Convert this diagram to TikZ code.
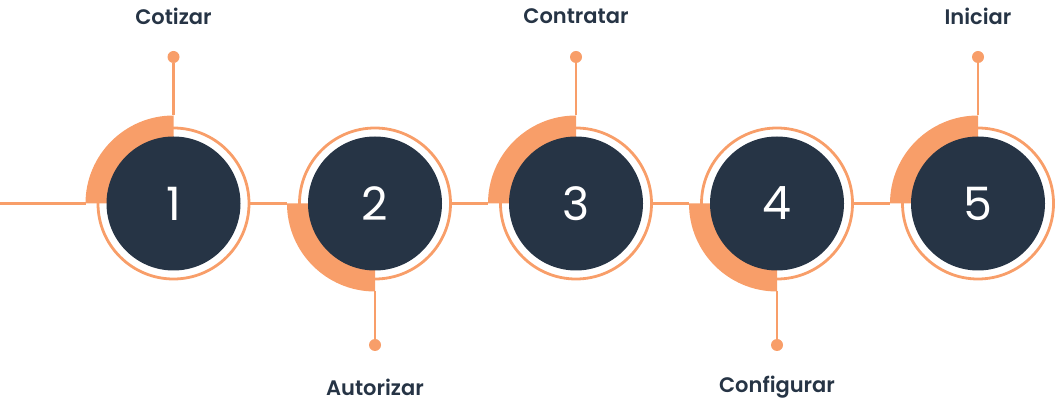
\documentclass[tikz,border=0pt]{standalone}
\usepackage{fontspec}
\setmainfont{Poppins}
\newfontfamily\numfont{Poppins}
\newfontfamily\labelfont{Poppins SemiBold}
\usetikzlibrary{positioning}
\definecolor{peach}{HTML}{F89E69}
\definecolor{navy}{HTML}{263445}

\begin{document}
\begin{tikzpicture}[x=1pt, y=1pt,
  ring/.style={circle, draw=peach, line width=2.8pt, minimum size=151pt, inner sep=0pt},
  disc/.style={circle, fill=navy, text=white, minimum size=134pt, inner sep=0pt, font=\numfont\fontsize{46}{46}\selectfont},
  pin/.style={circle, fill=peach, minimum size=12pt, inner sep=0pt},
  link/.style={draw=peach, line width=2.8pt},
  steplabel/.style={text=navy, font=\labelfont\fontsize{21}{21}\selectfont}]
  \useasboundingbox (0,0) rectangle (1055,401);

  % centros
  \coordinate (c1) at (173.5,197.5);
  \coordinate (c2) at (375,197.5);
  \coordinate (c3) at (576,197.5);
  \coordinate (c4) at (777,197.5);
  \coordinate (c5) at (978,197.5);

  % anillos
  \node[ring] (r1) at (c1) {};
  \node[ring] (r2) at (c2) {};
  \node[ring] (r3) at (c3) {};
  \node[ring] (r4) at (c4) {};
  \node[ring] (r5) at (c5) {};

  % sectores
  \fill[peach] (c1) -- ++(90:88) coordinate (s1) arc[start angle=90, end angle=180, radius=88] coordinate (w1) -- cycle;
  \fill[peach] (c2) -- ++(180:88) coordinate (w2) arc[start angle=180, end angle=270, radius=88] coordinate (s2) -- cycle;
  \fill[peach] (c3) -- ++(90:88) coordinate (s3) arc[start angle=90, end angle=180, radius=88] coordinate (w3) -- cycle;
  \fill[peach] (c4) -- ++(180:88) coordinate (w4) arc[start angle=180, end angle=270, radius=88] coordinate (s4) -- cycle;
  \fill[peach] (c5) -- ++(90:88) coordinate (s5) arc[start angle=90, end angle=180, radius=88] coordinate (w5) -- cycle;

  % discos
  \node[disc] (n1) at (c1) {1};
  \node[disc] (n2) at (c2) {2};
  \node[disc] (n3) at (c3) {3};
  \node[disc] (n4) at (c4) {4};
  \node[disc] (n5) at (c5) {5};

  % linea horizontal
  \coordinate (start) at (0,197.5);
  \draw[link] (start) -- (w1);
  \draw[link] (r1.east) -- (w2);
  \draw[link] (r2.east) -- (w3);
  \draw[link] (r3.east) -- (w4);
  \draw[link] (r4.east) -- (w5);

  % pines y etiquetas
  \node[pin] (d1) at (173.5,344) {};
  \node[pin] (d2) at (375,56) {};
  \node[pin] (d3) at (576,344) {};
  \node[pin] (d4) at (777,56) {};
  \node[pin] (d5) at (978,344) {};
  \draw[link] (d1) -- (s1);
  \draw[link] (d2) -- (s2);
  \draw[link] (d3) -- (s3);
  \draw[link] (d4) -- (s4);
  \draw[link] (d5) -- (s5);

  \node[steplabel] (t1) at (173.5,385) {Cotizar};
  \node[steplabel] (t2) at (375,14) {Autorizar};
  \node[steplabel] (t3) at (576,385) {Contratar};
  \node[steplabel] (t4) at (777,14) {Configurar};
  \node[steplabel] (t5) at (978,385) {Iniciar};
\end{tikzpicture}
\end{document}
